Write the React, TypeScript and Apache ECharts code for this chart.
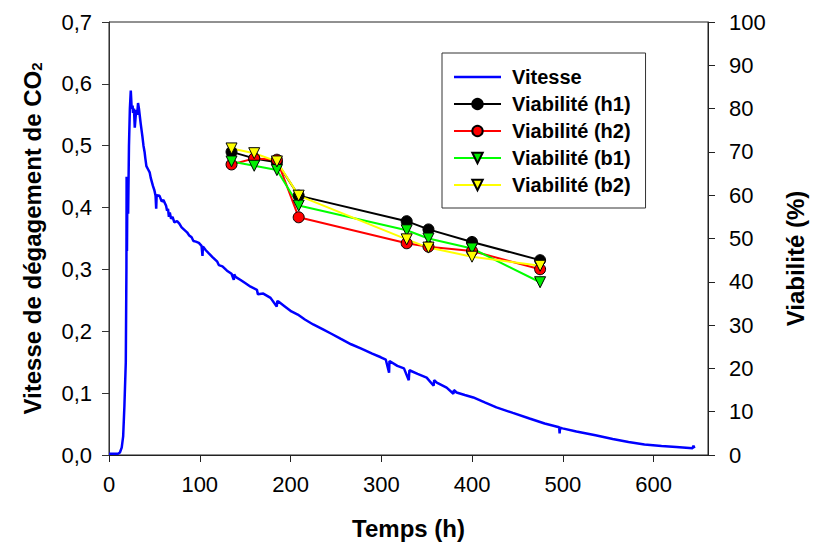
import React, { useEffect, useRef } from "react";
import * as echarts from "echarts";

// Vitesse de dégagement de CO2 (left axis)
const speedTime = [
  0, 5, 10, 12, 14, 15.6, 17, 18.5, 19.2, 19.4, 19.8, 20.3, 21.1, 22, 23, 24, 25, 26, 26.5, 27.5,
  28.4, 29.5, 30.2, 31, 32, 33, 33.8, 35, 36.8, 38, 39.3, 40, 41.2, 43, 44.8, 46, 48.4, 50, 51.3, 52,
  52.5, 55.7, 58, 60, 62.9, 64, 65, 66, 67, 68.4, 70, 72, 75, 77.5, 80, 83, 86, 88.4, 91, 93,
  95.7, 99, 102, 103, 103.5, 106.7, 110, 114, 119.3, 121, 125, 130, 135, 137.5, 138, 139.4, 145, 150, 156, 163,
  164, 170, 178, 184.8, 185.5, 186.7, 193, 201, 208, 215.8, 225, 235.8, 245, 255, 266.7, 278, 290, 299.5, 305, 308.6,
  309, 317.7, 325, 330.3, 331, 340, 350, 357.7, 358.3, 361.2, 372, 379.5, 380, 383, 392, 401.4, 414, 426.9, 445, 463.3,
  480, 496, 496.5, 497, 499.7, 515, 536, 555, 572.4, 590, 608.8, 625, 643, 644, 645,
];
const speedValue = [
  0.002, 0.002, 0.002, 0.004, 0.012, 0.03, 0.08, 0.15, 0.3, 0.45, 0.33, 0.44, 0.39, 0.5, 0.56, 0.589, 0.56, 0.565, 0.553, 0.56,
  0.529, 0.55, 0.558, 0.55, 0.569, 0.56, 0.55, 0.535, 0.515, 0.5, 0.489, 0.48, 0.467, 0.462, 0.457, 0.448, 0.435, 0.428, 0.419, 0.398,
  0.42, 0.419, 0.41, 0.412, 0.403, 0.395, 0.398, 0.385, 0.392, 0.382, 0.385, 0.376, 0.378, 0.374, 0.368, 0.364, 0.36, 0.355, 0.352, 0.346,
  0.345, 0.343, 0.338, 0.322, 0.337, 0.331, 0.326, 0.32, 0.3125, 0.307, 0.305, 0.298, 0.293, 0.283, 0.292, 0.288, 0.283, 0.278, 0.272, 0.267,
  0.26, 0.261, 0.254, 0.24, 0.249, 0.248, 0.241, 0.232, 0.227, 0.219, 0.211, 0.203, 0.196, 0.188, 0.179, 0.172, 0.164, 0.158, 0.154, 0.133,
  0.152, 0.144, 0.14, 0.121, 0.137, 0.131, 0.125, 0.112, 0.121, 0.117, 0.109, 0.099, 0.105, 0.101, 0.097, 0.093, 0.085, 0.077, 0.068, 0.059,
  0.051, 0.045, 0.035, 0.044, 0.043, 0.038, 0.032, 0.026, 0.021, 0.017, 0.0144, 0.013, 0.011, 0.015, 0.011,
];

// Viabilité (right axis, %)
const viaTime = [135, 160, 185, 209, 328, 352, 400, 475];
const viaH1 = [70.0, 68.5, 67.6, 59.9, 54.0, 52.1, 49.2, 45.0];
const viaH2 = [67.1, 68.5, 68.2, 54.9, 48.9, 48.1, 47.1, 42.9];
const viaB1 = [67.8, 66.8, 65.8, 57.6, 51.9, 50.0, 47.7, 39.9];
const viaB2 = [70.8, 69.7, 67.8, 59.9, 49.8, 47.9, 45.8, 43.7];

const xTicks = [0, 100, 200, 300, 400, 500, 600];

const FONT = "'Liberation Sans', Arial, sans-serif";

export default function App() {
  const ref = useRef<HTMLDivElement>(null);

  useEffect(() => {
    if (!ref.current) return;
    const chart = echarts.init(ref.current, null, { renderer: "svg" });

    const via = (name: string, vals: number[], color: string, fill: string, symbol: string, rotate: number) => ({
      name,
      type: "line",
      yAxisIndex: 1,
      data: viaTime.map((t, i) => [t, vals[i]]),
      symbol,
      symbolSize: 11,
      symbolRotate: rotate,
      lineStyle: { color, width: 2 },
      itemStyle: { color: fill, borderColor: "#000", borderWidth: 1 },
      emphasis: { disabled: true },
    });

    chart.setOption({
      animation: false,
      textStyle: { fontFamily: FONT },
      grid: {
        left: 109,
        right: 102,
        top: 22,
        bottom: 87,
        show: true,
        borderColor: "#222",
        borderWidth: 1,
      },
      legend: {
        left: 442,
        top: 53,
        orient: "vertical",
        padding: [14, 15, 13, 11],
        itemWidth: 47,
        itemHeight: 13,
        itemGap: 7,
        borderColor: "#333",
        borderWidth: 1,
        backgroundColor: "#fff",
        textStyle: { fontSize: 20, fontWeight: "bold", color: "#000", fontFamily: FONT, padding: [0, 0, 0, 6] },
        data: [
          { name: "Vitesse", icon: "path://M0 0H94V5H0Z" },
          "Viabilité (h1)",
          "Viabilité (h2)",
          "Viabilité (b1)",
          "Viabilité (b2)",
        ],
      },
      xAxis: {
        type: "value",
        min: 0,
        max: 660,
        interval: 100,
        name: "Temps (h)",
        nameLocation: "middle",
        nameGap: 61,
        nameTextStyle: { fontSize: 24, fontWeight: "bold", color: "#000", fontFamily: FONT },
        axisLine: { show: true, lineStyle: { color: "#222", width: 1 } },
        axisTick: { show: true, inside: false, length: 7, lineStyle: { color: "#222" }, customValues: xTicks },
        axisLabel: { fontSize: 22, color: "#000", margin: 18, customValues: xTicks, fontFamily: FONT },
        splitLine: { show: false },
      },
      yAxis: [
        {
          type: "value",
          min: 0,
          max: 0.7,
          interval: 0.1,
          position: "left",
          name: "Vitesse de dégagement de CO{sub|2}",
          nameLocation: "middle",
          nameRotate: 90,
          nameGap: 65,
          nameTextStyle: {
            fontSize: 24,
            fontWeight: "bold",
            color: "#000",
            fontFamily: FONT,
            rich: {
              sub: { fontSize: 15, fontWeight: "bold", color: "#000", fontFamily: FONT, verticalAlign: "bottom", lineHeight: 15 },
            },
          },
          axisLine: { show: true, lineStyle: { color: "#333", width: 1 } },
          axisTick: { show: true, inside: false, length: 7, lineStyle: { color: "#333" } },
          axisLabel: {
            fontSize: 22,
            color: "#000",
            margin: 17,
            fontFamily: FONT,
            formatter: (v: number) => v.toFixed(1).replace(".", ","),
          },
          splitLine: { show: false },
        },
        {
          type: "value",
          min: 0,
          max: 100,
          interval: 10,
          position: "right",
          name: "Viabilité (%)",
          nameLocation: "middle",
          nameRotate: 90,
          nameGap: 75,
          nameTextStyle: { fontSize: 24, fontWeight: "bold", color: "#000", fontFamily: FONT, padding: [0, 40, 0, 0] },
          axisLine: { show: true, lineStyle: { color: "#222", width: 1 } },
          axisTick: { show: true, inside: false, length: 7, lineStyle: { color: "#222" } },
          axisLabel: { fontSize: 22, color: "#000", margin: 21, fontFamily: FONT },
          splitLine: { show: false },
        },
      ],
      series: [
        {
          name: "Vitesse",
          type: "line",
          yAxisIndex: 0,
          data: speedTime.map((t, i) => [t, speedValue[i]]),
          symbol: "none",
          showSymbol: false,
          lineStyle: { color: "#0000ff", width: 2.5 },
          itemStyle: { color: "#0000ff" },
          emphasis: { disabled: true },
        },
        via("Viabilité (h1)", viaH1, "#000000", "#000000", "circle", 0),
        via("Viabilité (h2)", viaH2, "#ff0000", "#ff0000", "circle", 0),
        via("Viabilité (b1)", viaB1, "#00ff00", "#00ee00", "triangle", 180),
        via("Viabilité (b2)", viaB2, "#ffff00", "#ffff00", "triangle", 180),
      ],
    });

    return () => chart.dispose();
  }, []);

  return (
    <div
      ref={ref}
      style={{ position: "fixed", left: 0, top: 0, width: 815, height: 545, background: "#fff" }}
    />
  );
}
